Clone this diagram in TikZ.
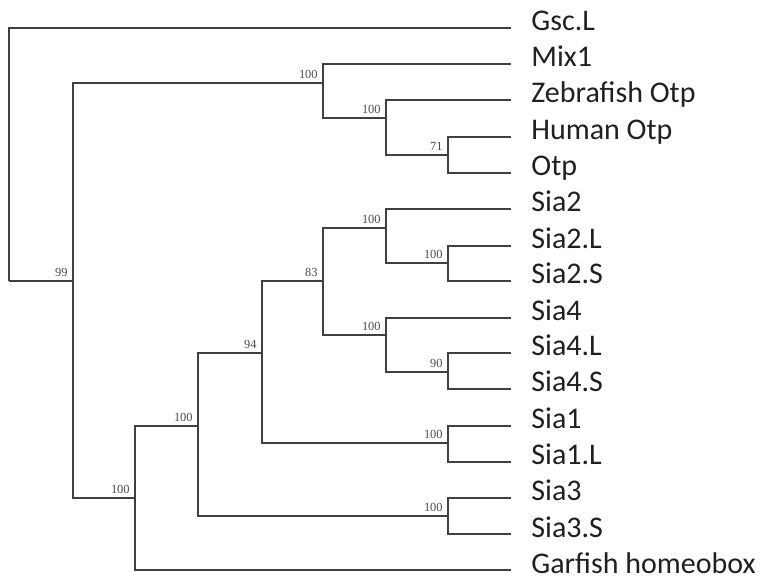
\documentclass[tikz,border=0pt]{standalone}
\usepackage{fontspec}
\setmainfont{Carlito}
\newfontfamily\numfont{Liberation Serif}
\definecolor{branchc}{HTML}{404040}
\definecolor{txt}{HTML}{231F20}
\definecolor{numc}{HTML}{4A4A4A}
\begin{document}
\begin{tikzpicture}[x=0.5pt,y=-0.5pt,
  branch/.style={draw=branchc,line width=1.1pt},
  taxon/.style={anchor=base west,inner sep=0pt,xshift=10pt,yshift=-1.5pt,
    font=\fontsize{15}{16}\selectfont,text=txt},
  support/.style={anchor=south east,inner sep=0pt,xshift=-2.5pt,yshift=2pt,
    font=\numfont\fontsize{6.2}{7}\selectfont,text=numc}]
\useasboundingbox (0,0) rectangle (761,577);

% leaf tips
\coordinate (tGsc) at (511,28);
\coordinate (tMix) at (511,64);
\coordinate (tZeb) at (511,100);
\coordinate (tHum) at (511,137);
\coordinate (tOtp) at (511,173);
\coordinate (tSiaII) at (511,209);
\coordinate (tSiaIIL) at (511,246);
\coordinate (tSiaIIS) at (511,281);
\coordinate (tSiaIV) at (511,318);
\coordinate (tSiaIVL) at (511,353);
\coordinate (tSiaIVS) at (511,389);
\coordinate (tSiaI) at (511,426);
\coordinate (tSiaIL) at (511,462);
\coordinate (tSiaIII) at (511,498);
\coordinate (tSiaIIIS) at (511,534);
\coordinate (tGar) at (511,570);

% taxon labels
\node[taxon] (lGsc) at (tGsc) {Gsc.L};
\node[taxon] (lMix) at (tMix) {Mix1};
\node[taxon] (lZeb) at (tZeb) {Zebrafish Otp};
\node[taxon] (lHum) at (tHum) {Human Otp};
\node[taxon] (lOtp) at (tOtp) {Otp};
\node[taxon] (lSiaII) at (tSiaII) {Sia2};
\node[taxon] (lSiaIIL) at (tSiaIIL) {Sia2.L};
\node[taxon] (lSiaIIS) at (tSiaIIS) {Sia2.S};
\node[taxon] (lSiaIV) at (tSiaIV) {Sia4};
\node[taxon] (lSiaIVL) at (tSiaIVL) {Sia4.L};
\node[taxon] (lSiaIVS) at (tSiaIVS) {Sia4.S};
\node[taxon] (lSiaI) at (tSiaI) {Sia1};
\node[taxon] (lSiaIL) at (tSiaIL) {Sia1.L};
\node[taxon] (lSiaIII) at (tSiaIII) {Sia3};
\node[taxon] (lSiaIIIS) at (tSiaIIIS) {Sia3.S};
\node[taxon] (lGar) at (tGar) {Garfish homeobox};

% internal nodes (x = branch point, y = stem)
\coordinate (root) at (9,281);
\coordinate (nA) at (73,281);
\coordinate (nB) at (323,83);
\coordinate (nC) at (386,118);
\coordinate (nD) at (448,155);
\coordinate (nK) at (135,498);
\coordinate (nL) at (198,426);
\coordinate (nM) at (262,353);
\coordinate (nN) at (448,516);
\coordinate (nP) at (323,281);
\coordinate (nQ) at (448,443);
\coordinate (nR) at (386,228);
\coordinate (nS) at (386,335);
\coordinate (nT) at (448,263);
\coordinate (nU) at (448,372);

% branches
\draw[branch] (root) |- (tGsc);
\draw[branch] (root) -- (nA);
\draw[branch] (nA) |- (nB);
\draw[branch] (nA) |- (nK);
\draw[branch] (nB) |- (tMix);
\draw[branch] (nB) |- (nC);
\draw[branch] (nC) |- (tZeb);
\draw[branch] (nC) |- (nD);
\draw[branch] (nD) |- (tHum);
\draw[branch] (nD) |- (tOtp);
\draw[branch] (nK) |- (nL);
\draw[branch] (nK) |- (tGar);
\draw[branch] (nL) |- (nM);
\draw[branch] (nL) |- (nN);
\draw[branch] (nN) |- (tSiaIII);
\draw[branch] (nN) |- (tSiaIIIS);
\draw[branch] (nM) |- (nP);
\draw[branch] (nM) |- (nQ);
\draw[branch] (nQ) |- (tSiaI);
\draw[branch] (nQ) |- (tSiaIL);
\draw[branch] (nP) |- (nR);
\draw[branch] (nP) |- (nS);
\draw[branch] (nR) |- (tSiaII);
\draw[branch] (nR) |- (nT);
\draw[branch] (nT) |- (tSiaIIL);
\draw[branch] (nT) |- (tSiaIIS);
\draw[branch] (nS) |- (tSiaIV);
\draw[branch] (nS) |- (nU);
\draw[branch] (nU) |- (tSiaIVL);
\draw[branch] (nU) |- (tSiaIVS);

% bootstrap support values
\node[support] (sA) at (nA) {99};
\node[support] (sB) at (nB) {100};
\node[support] (sC) at (nC) {100};
\node[support] (sD) at (nD) {71};
\node[support] (sK) at (nK) {100};
\node[support] (sL) at (nL) {100};
\node[support] (sM) at (nM) {94};
\node[support] (sN) at (nN) {100};
\node[support] (sP) at (nP) {83};
\node[support] (sQ) at (nQ) {100};
\node[support] (sR) at (nR) {100};
\node[support] (sS) at (nS) {100};
\node[support] (sT) at (nT) {100};
\node[support] (sU) at (nU) {90};
\end{tikzpicture}
\end{document}
